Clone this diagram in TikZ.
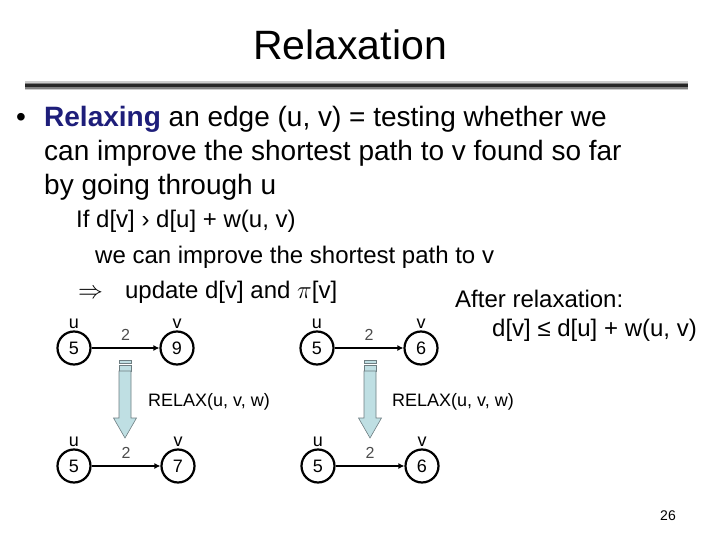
\documentclass[tikz,border=0pt]{standalone}
\usepackage{fontspec}
\setmainfont{Liberation Sans}
\usepackage{tikz}
\usetikzlibrary{arrows.meta, positioning}
\definecolor{RelaxBlue}{HTML}{1E1E7A}
\definecolor{ArrowFill}{HTML}{BFDFE3}
\definecolor{ArrowLine}{HTML}{6E7E82}

\begin{document}
\begin{tikzpicture}[x=1pt, y=-1pt,
  vert/.style={draw, circle, line width=2.2pt, minimum size=33pt, inner sep=0pt, font=\fontsize{18}{18}\selectfont},
  tag/.style={font=\fontsize{18}{18}\selectfont, inner sep=2pt},
  weight/.style={font=\fontsize{16}{16}\selectfont, text=black!70, inner sep=1pt},
  edgearrow/.style={-{Latex[length=6pt, width=6pt]}, line width=1.6pt},
  bodytext/.style={anchor=base west, inner sep=0pt},
  bigtext/.style={bodytext, font=\fontsize{28}{28}\selectfont},
  smalltext/.style={bodytext, font=\fontsize{24}{24}\selectfont},
  relaxtext/.style={font=\fontsize{18}{18}\selectfont, inner sep=0pt},
  blockarrow/.style={draw=ArrowLine, fill=ArrowFill, line width=0.6pt}
]
  \useasboundingbox (0,0) rectangle (720,540);

  % title and rule
  \node[font=\fontsize{41}{41}\selectfont] (title) at (350,45) {Relaxation};
  \draw[line width=9pt, black!20] (25,86) -- (688,86);
  \draw[line width=6pt, black!50] (25,86) -- (688,86);
  \draw[line width=3pt, black!85] (25,86) -- (688,86);

  % bullet text
  \node[bigtext] (bullet) at (16,127) {•};
  \node[bigtext] (line1) at (44,127) {\textbf{\color{RelaxBlue}Relaxing} an edge (u, v) = testing whether we};
  \node[bigtext] (line2) at (44,161) {can improve the shortest path to v found so far};
  \node[bigtext] (line3) at (44,195) {by going through u};

  \node[smalltext] (cond) at (76,228) {If d[v] › d[u] + w(u, v)};
  \node[smalltext] (improve) at (95,263) {we can improve the shortest path to v};
  \node[smalltext] (update) at (78,298) {$\Rightarrow$\hspace{22pt}update d[v] and $\pi$[v]};
  \node[smalltext] (after) at (455,307) {After relaxation:};
  \node[smalltext] (bound) at (492,336) {d[v] ≤ d[u] + w(u, v)};

  % graphs before and after
  \node[vert, label={[tag, label distance=0pt]above:u}] (u1) at (74,348) {5};
  \node[vert, label={[tag, label distance=0pt]above:v}] (v1) at (177,348) {9};
  \node[vert, label={[tag, label distance=0pt]above:u}] (u2) at (317,348) {5};
  \node[vert, label={[tag, label distance=0pt]above:v}] (v2) at (421,348) {6};
  \node[vert, label={[tag, label distance=0pt]above:u}] (u3) at (74,466) {5};
  \node[vert, label={[tag, label distance=0pt]above:v}] (v3) at (178,466) {7};
  \node[vert, label={[tag, label distance=0pt]above:u}] (u4) at (318,466) {5};
  \node[vert, label={[tag, label distance=0pt]above:v}] (v4) at (422,466) {6};

  \draw[edgearrow] (u1) -- node[weight, above=6pt] {2} (v1);
  \draw[edgearrow] (u2) -- node[weight, above=6pt] {2} (v2);
  \draw[edgearrow] (u3) -- node[weight, above=6pt] {2} (v3);
  \draw[edgearrow] (u4) -- node[weight, above=6pt] {2} (v4);

  % block arrows
  \foreach \x in {125, 370} {
    \draw[blockarrow] (\x-6,360) rectangle (\x+6,363);
    \draw[blockarrow] (\x-6,365) rectangle (\x+6,371);
    \draw[blockarrow] (\x-6,371) -- (\x-6,418) -- (\x-11.5,418) -- (\x,438)
      -- (\x+11.5,418) -- (\x+6,418) -- (\x+6,371) -- cycle;
  }
  \node[relaxtext] (relax1) at (209,402) {RELAX(u, v, w)};
  \node[relaxtext] (relax2) at (453,402) {RELAX(u, v, w)};

  \node[font=\fontsize{14}{14}\selectfont] (page) at (668,516) {26};
\end{tikzpicture}
\end{document}
